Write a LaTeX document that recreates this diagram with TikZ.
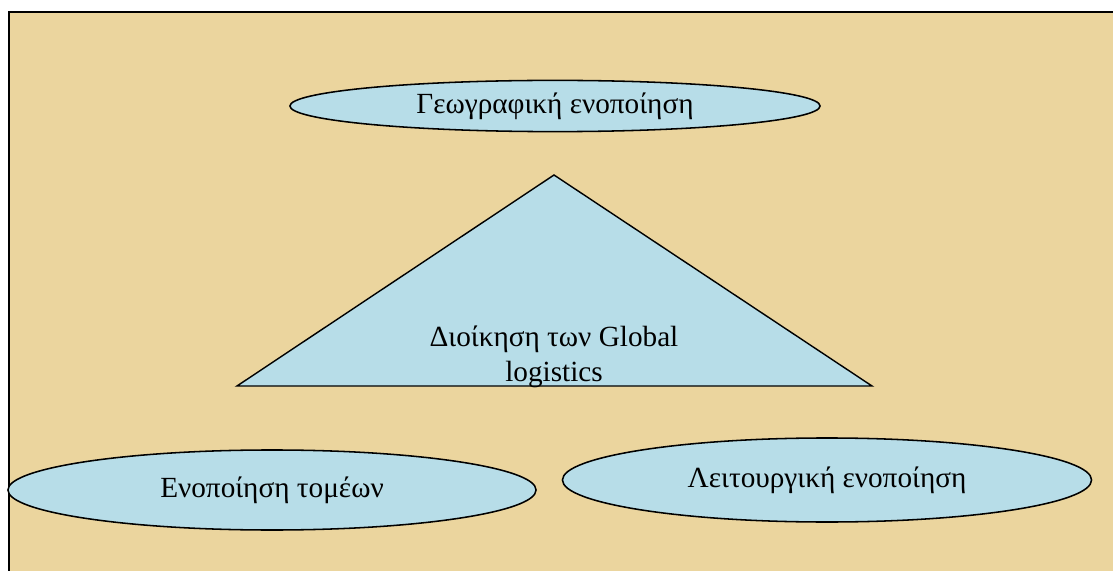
\documentclass[tikz,border=0pt]{standalone}
\usepackage{fontspec}
\setmainfont{Liberation Serif}
\usepackage{xcolor}
\usetikzlibrary{
    shapes.geometric,
}

\definecolor{parchment}{RGB}{235,213,158}
\definecolor{lightblue}{RGB}{183,221,232}

\tikzset{
    bubble/.style={ellipse,draw=black,line width=1.1pt,fill=lightblue,
        font=\fontsize{20.8}{25}\selectfont},
}

\begin{document}
\begin{tikzpicture}[x=0.025cm,y=-0.025cm]
    % \draw[help lines] grid (1113,571);
    \useasboundingbox (0,0) rectangle (1113,571);

    % Background
    \fill[parchment] (9,12) rectangle (1113,571);
    \draw[black,line width=1.8pt] (9,571) -- (9,12) -- (1113,12);

    % Top ellipse
    \node[bubble,minimum width=13.25cm,minimum height=1.2cm] (geo) at (555,106)
        {Γεωγραφική ενοποίηση};

    % Triangle
    \coordinate (apex) at (554,175);
    \coordinate (baseL) at (237,386);
    \coordinate (baseR) at (872,386);
    \draw[black,line width=1pt,fill=lightblue] (apex) -- (baseL) -- (baseR) -- cycle;
    \node[align=center,font=\fontsize{20.8}{25}\selectfont] (mgmt) at (554,357)
        {Διοίκηση των Global\\logistics};

    % Bottom ellipses
    \node[bubble,minimum width=13.2cm,minimum height=2.0cm] (sect) at (272,490)
        {Ενοποίηση τομέων};
    \node[bubble,minimum width=13.225cm,minimum height=2.1cm] (func) at (827,480)
        {Λειτουργική ενοποίηση};

\end{tikzpicture}
\end{document}
